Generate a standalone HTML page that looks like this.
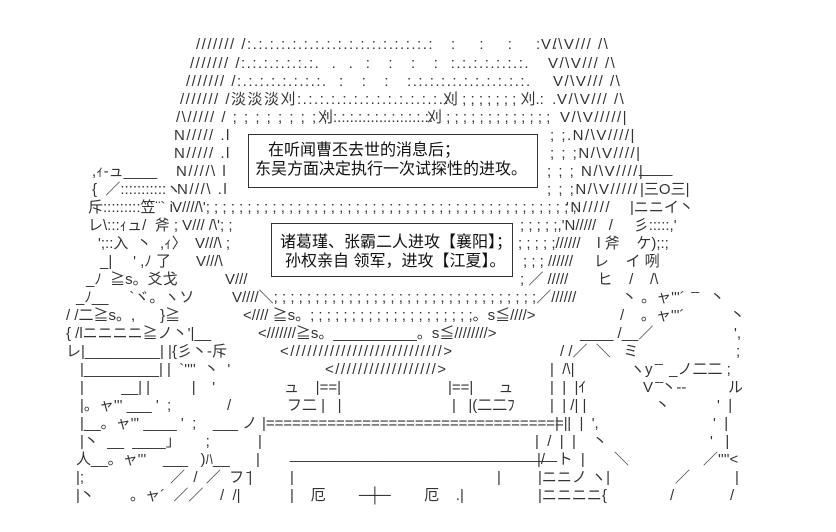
<!DOCTYPE html>
<html><head><meta charset="utf-8"><style>
html,body{margin:0;padding:0;background:#fff;}
#c{position:relative;width:836px;height:532px;overflow:hidden;font-family:"Liberation Sans","Noto Sans CJK SC",sans-serif;font-size:15px;color:#333;}
.t{position:absolute;white-space:pre;line-height:18px;}
.b{position:absolute;border:1px solid #333;}
.k{font-size:16px;color:#111;}
.w{letter-spacing:1.5px;}
</style></head><body><div id="c">
<div class="b" style="left:248px;top:134px;width:288px;height:52px"></div>
<div class="b" style="left:271px;top:223px;width:240px;height:52px"></div>
<div class="t k" style="left:268px;top:142px">在听闻曹丕去世的消息后；</div>
<div class="t k" style="left:255px;top:161px">东吴方面决定执行一次试探性的进攻。</div>
<div class="t k" style="left:280px;top:234px">诸葛瑾、张霸二人进攻【襄阳】；</div>
<div class="t k" style="left:285px;top:253px">孙权亲自 领军，进攻【江夏】。</div>

<div class="t w" style="left:196px;top:36px">/////// /:.:.:.:.:.:.:.:.:.:.:.:.:.:.:.:.:   :    :    :    :  :</div><div class="t w" style="left:541px;top:36px">V/\V/// /\</div>
<div class="t w" style="left:190px;top:55px">/////// /:.:.:.:.:.:.:.  .  .  :   :   :   :  :.:.:.:.:.:.:.</div><div class="t w" style="left:548px;top:55px">V/\V/// /\</div>
<div class="t w" style="left:186px;top:73px">/////// /:.:.:.:.:.:.:.:.  :   :   :   :.:.:.:.:.:.:.:.:.:.:.</div><div class="t w" style="left:553px;top:73px">V/\V/// /\</div>
<div class="t w" style="left:180px;top:91px">/////// /淡淡淡刈:.:.:.:.:.:.:.:.:.:.:.:.:.:.</div><div class="t" style="left:443px;top:91px">刈 ; ; ; ; ; ; ; 刈.:  .</div><div class="t w" style="left:557px;top:91px">V/\V/// /\</div>
<div class="t w" style="left:176px;top:109px">/\///// / ; ; ; ; ; ; ; ; ;</div><div class="t" style="left:318px;top:109px">刈:.:.:.:.:.:.:.:.:.:.:.:.</div><div class="t" style="left:427px;top:109px">刈 ; ; ; ; ; ; ; ; ; ; ; ; ;</div><div class="t w" style="left:560px;top:109px">V/\V/////|</div>
<div class="t w" style="left:174px;top:127px">N///// .l</div><div class="t w" style="left:550px;top:127px">; ;.N/\V////|</div>
<div class="t w" style="left:174px;top:145px">N///// .l</div><div class="t w" style="left:550px;top:145px">; ; ;N/\V////|</div>
<div class="t" style="left:92px;top:163px">,ｨ-ュ____</div><div class="t w" style="left:176px;top:163px">N////\ l</div><div class="t w" style="left:547px;top:163px">; ; ; N/\V////|</div><div class="t" style="left:639px;top:160px">____</div>
<div class="t" style="left:92px;top:181px">{  ／:::::::::::ヽ</div><div class="t w" style="left:177px;top:181px">N///\ .l</div><div class="t w" style="left:547px;top:181px">; ; ;N/\V/////</div><div class="t" style="left:640px;top:181px">|三O三|</div>
<div class="t" style="left:88px;top:199px">斥:::::::::笠¨` i</div><div class="t" style="left:172px;top:199px">V////\'; ; ; ; ; ; ; ; ; ; ; ; ; ; ; ; ; ; ; ; ; ; ; ; ; ; ; ; ; ; ; ; ; ; ; ; ; ; ; ; ; ; ; ; ;</div><div class="t w" style="left:566px;top:199px">'N/////</div><div class="t" style="left:630px;top:199px">|ニニイ丶</div>
<div class="t" style="left:88px;top:217px">レ\:::ｨュ/  斧 ; V/// /\'; ;</div><div class="t" style="left:520px;top:217px">; ; ; ; ;,'N/////   /     彡:::::,'</div>
<div class="t" style="left:98px;top:235px">';::入  丶  ,ｨ〉  V///\ ;</div><div class="t" style="left:518px;top:235px">; ; ; ; ;//////    l 斧    ケ);:;</div>
<div class="t" style="left:100px;top:253px">_|     ' ,ﾉ 了      V///\</div><div class="t" style="left:523px;top:253px">; ; ; //////     レ    イ 咧</div>
<div class="t" style="left:86px;top:271px">_ﾉ  ≧s。爻戈</div><div class="t" style="left:225px;top:271px">V///</div><div class="t" style="left:520px;top:271px">; ／ /////       ヒ    /    /\</div>
<div class="t" style="left:76px;top:289px">_ﾉ__     `ヾ。ヽソ</div><div class="t" style="left:232px;top:289px">V////＼; ; ; ; ; ; ; ; ; ; ; ; ; ; ; ; ; ; ; ; ; ; ; ; ; ; ; ; ; ; ; ;／//////</div><div class="t" style="left:622px;top:289px">丶 。ャ'''´  ̄ ̄   丶</div>
<div class="t" style="left:66px;top:307px">/ /二≧s。,      }≧</div><div class="t" style="left:243px;top:307px">&lt;//// ≧s。; ; ; ; ; ; ; ; ; ; ; ; ; ; ; ; ; ; ; ;。s≦////&gt;</div><div class="t" style="left:620px;top:307px">/    。ャ'''´</div><div class="t" style="left:730px;top:307px">丶</div>
<div class="t" style="left:66px;top:325px">{ /lニニニニ≧ノ丶'|__</div><div class="t" style="left:258px;top:325px">&lt;///////≧s。__________。s≦////////&gt;</div><div class="t" style="left:580px;top:325px">____ /__／</div><div class="t" style="left:734px;top:325px">',</div>
<div class="t" style="left:66px;top:343px">レ|_________| |{彡丶-斥</div><div class="t w" style="left:280px;top:343px">&lt;///////////////////////////&gt;</div><div class="t" style="left:560px;top:343px">/ /／  ＼   ミ</div><div class="t" style="left:736px;top:343px">;</div>
<div class="t" style="left:80px;top:361px">|_________| |  `''''  丶  '</div><div class="t w" style="left:325px;top:361px">&lt;//////////////////&gt;</div><div class="t" style="left:550px;top:361px">|  /\|</div><div class="t" style="left:630px;top:361px">ヽy ̄ ̄  _ノ二二 ;</div>
<div class="t" style="left:80px;top:379px">|         __| |          |    '</div><div class="t" style="left:284px;top:379px">ュ    |==|</div><div class="t" style="left:448px;top:379px">|==|      ュ</div><div class="t" style="left:550px;top:379px">|  |  |ｲ</div><div class="t" style="left:643px;top:379px">V ̄ ̄丶--</div><div class="t" style="left:728px;top:379px">ル</div>
<div class="t" style="left:80px;top:397px">|。ャ''' ___ '  ;</div><div class="t" style="left:227px;top:397px">/</div><div class="t" style="left:287px;top:397px">フ二 |   |</div><div class="t" style="left:452px;top:397px">|   |(二二ﾌ</div><div class="t" style="left:550px;top:397px">|  | /| |</div><div class="t" style="left:655px;top:397px">丶</div><div class="t" style="left:717px;top:397px">'  |</div>
<div class="t" style="left:80px;top:415px">|__。ャ''' ____ '  ;    ___ ノ</div><div class="t" style="left:262px;top:415px">|==================================|</div><div class="t" style="left:555px;top:415px">|  |  |  ',</div><div class="t" style="left:713px;top:415px">'  |</div>
<div class="t" style="left:80px;top:433px">|丶  __  ____」      ;</div><div class="t" style="left:258px;top:433px">|</div><div class="t" style="left:535px;top:433px">|  /  |  |    丶</div><div class="t" style="left:710px;top:433px">'   |</div>
<div class="t" style="left:76px;top:451px">人__。ャ'''    ___   )ﾊ__</div><div class="t" style="left:256px;top:451px">|</div><div class="t" style="left:290px;top:446px">________________________________</div><div class="t" style="left:537px;top:451px">|/   ト  |       ＼</div><div class="t" style="left:703px;top:451px">／''''&lt;</div>
<div class="t" style="left:76px;top:469px">|;</div><div class="t" style="left:170px;top:469px">／  /  ／  フ ̄|</div><div class="t" style="left:290px;top:469px">|</div><div class="t" style="left:497px;top:469px">|</div><div class="t" style="left:538px;top:469px">|ニニノ ヽ|</div><div class="t" style="left:675px;top:469px">／</div><div class="t" style="left:735px;top:469px">|</div>
<div class="t" style="left:76px;top:487px">|丶</div><div class="t" style="left:130px;top:487px">。ャ´  ／／    /  /|</div><div class="t" style="left:290px;top:487px">|    厄        ─┼─        厄    .|</div><div class="t" style="left:538px;top:487px">|ニニニニ{</div><div class="t" style="left:670px;top:487px">/</div><div class="t" style="left:730px;top:487px">/</div>
</div></body></html>
